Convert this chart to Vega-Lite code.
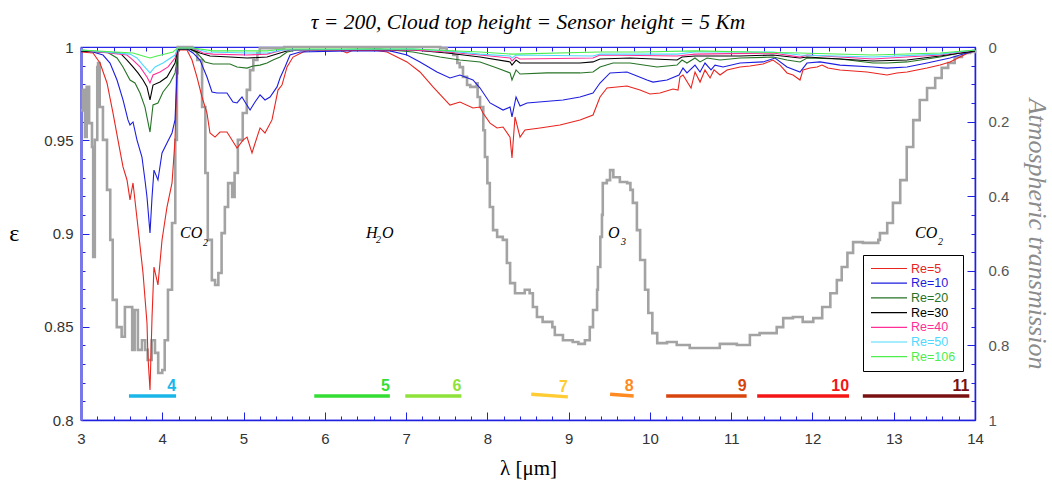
{
"$schema": "https://vega.github.io/schema/vega-lite/v6.json",
"width": 894, "height": 373,
"autosize": {"type": "none"},
"padding": {"left": 81, "top": 47, "right": 77, "bottom": 61},
"background": "white",
"title": {"text": "τ = 200, Cloud top height = Sensor height = 5 Km", "font": "Liberation Serif", "fontStyle": "italic", "fontWeight": "normal", "fontSize": 21.5, "color": "black", "anchor": "middle", "baseline": "alphabetic", "offset": -10},
"config": {"view": {"stroke": "#2a2ae8", "strokeWidth": 1.2}, "axis": {"grid": false, "labelOverlap": false}},
"datasets": {
"curves": [
{"Re":"Re=5","lam":3,"eps":0.9973},{"Re":"Re=5","lam":3.148,"eps":0.9968},{"Re":"Re=5","lam":3.234,"eps":0.9914},{"Re":"Re=5","lam":3.32,"eps":0.9807},{"Re":"Re=5","lam":3.394,"eps":0.9646},{"Re":"Re=5","lam":3.455,"eps":0.9501},{"Re":"Re=5","lam":3.517,"eps":0.9357},{"Re":"Re=5","lam":3.566,"eps":0.9287},{"Re":"Re=5","lam":3.603,"eps":0.918},{"Re":"Re=5","lam":3.64,"eps":0.9271},{"Re":"Re=5","lam":3.701,"eps":0.9035},{"Re":"Re=5","lam":3.763,"eps":0.8788},{"Re":"Re=5","lam":3.812,"eps":0.852},{"Re":"Re=5","lam":3.824,"eps":0.8338},{"Re":"Re=5","lam":3.849,"eps":0.8161},{"Re":"Re=5","lam":3.874,"eps":0.8552},{"Re":"Re=5","lam":3.898,"eps":0.882},{"Re":"Re=5","lam":3.947,"eps":0.8724},{"Re":"Re=5","lam":3.997,"eps":0.8965},{"Re":"Re=5","lam":4.058,"eps":0.9142},{"Re":"Re=5","lam":4.12,"eps":0.9271},{"Re":"Re=5","lam":4.157,"eps":0.9501},{"Re":"Re=5","lam":4.181,"eps":0.9861},{"Re":"Re=5","lam":4.19,"eps":0.9984},{"Re":"Re=5","lam":4.304,"eps":0.9984},{"Re":"Re=5","lam":4.366,"eps":0.993},{"Re":"Re=5","lam":4.427,"eps":0.9839},{"Re":"Re=5","lam":4.489,"eps":0.9732},{"Re":"Re=5","lam":4.55,"eps":0.9646},{"Re":"Re=5","lam":4.587,"eps":0.9539},{"Re":"Re=5","lam":4.649,"eps":0.9517},{"Re":"Re=5","lam":4.71,"eps":0.9544},{"Re":"Re=5","lam":4.796,"eps":0.9544},{"Re":"Re=5","lam":4.858,"eps":0.9501},{"Re":"Re=5","lam":4.92,"eps":0.9458},{"Re":"Re=5","lam":4.993,"eps":0.9501},{"Re":"Re=5","lam":5.043,"eps":0.9517},{"Re":"Re=5","lam":5.104,"eps":0.9432},{"Re":"Re=5","lam":5.166,"eps":0.9517},{"Re":"Re=5","lam":5.203,"eps":0.9566},{"Re":"Re=5","lam":5.264,"eps":0.9539},{"Re":"Re=5","lam":5.35,"eps":0.9609},{"Re":"Re=5","lam":5.424,"eps":0.9769},{"Re":"Re=5","lam":5.473,"eps":0.9796},{"Re":"Re=5","lam":5.535,"eps":0.9893},{"Re":"Re=5","lam":5.609,"eps":0.9946},{"Re":"Re=5","lam":5.732,"eps":0.9973},{"Re":"Re=5","lam":5.818,"eps":0.9984},{"Re":"Re=5","lam":6.187,"eps":0.9984},{"Re":"Re=5","lam":6.273,"eps":0.9968},{"Re":"Re=5","lam":6.347,"eps":0.9984},{"Re":"Re=5","lam":6.593,"eps":0.9984},{"Re":"Re=5","lam":6.765,"eps":0.9973},{"Re":"Re=5","lam":6.888,"eps":0.9946},{"Re":"Re=5","lam":7.011,"eps":0.992},{"Re":"Re=5","lam":7.171,"eps":0.9866},{"Re":"Re=5","lam":7.331,"eps":0.9786},{"Re":"Re=5","lam":7.54,"eps":0.9689},{"Re":"Re=5","lam":7.663,"eps":0.9705},{"Re":"Re=5","lam":7.823,"eps":0.9673},{"Re":"Re=5","lam":7.91,"eps":0.9678},{"Re":"Re=5","lam":7.946,"eps":0.9646},{"Re":"Re=5","lam":8.033,"eps":0.9592},{"Re":"Re=5","lam":8.119,"eps":0.9566},{"Re":"Re=5","lam":8.193,"eps":0.9571},{"Re":"Re=5","lam":8.279,"eps":0.9517},{"Re":"Re=5","lam":8.303,"eps":0.9405},{"Re":"Re=5","lam":8.34,"eps":0.9625},{"Re":"Re=5","lam":8.402,"eps":0.9517},{"Re":"Re=5","lam":8.463,"eps":0.9555},{"Re":"Re=5","lam":8.648,"eps":0.9566},{"Re":"Re=5","lam":8.894,"eps":0.9582},{"Re":"Re=5","lam":9.14,"eps":0.9609},{"Re":"Re=5","lam":9.3,"eps":0.9635},{"Re":"Re=5","lam":9.386,"eps":0.9732},{"Re":"Re=5","lam":9.472,"eps":0.978},{"Re":"Re=5","lam":9.718,"eps":0.9791},{"Re":"Re=5","lam":9.878,"eps":0.9769},{"Re":"Re=5","lam":10.001,"eps":0.9748},{"Re":"Re=5","lam":10.124,"eps":0.9753},{"Re":"Re=5","lam":10.284,"eps":0.9775},{"Re":"Re=5","lam":10.346,"eps":0.9769},{"Re":"Re=5","lam":10.37,"eps":0.9839},{"Re":"Re=5","lam":10.407,"eps":0.985},{"Re":"Re=5","lam":10.506,"eps":0.978},{"Re":"Re=5","lam":10.555,"eps":0.9866},{"Re":"Re=5","lam":10.617,"eps":0.9812},{"Re":"Re=5","lam":10.678,"eps":0.9877},{"Re":"Re=5","lam":10.74,"eps":0.9834},{"Re":"Re=5","lam":10.789,"eps":0.9877},{"Re":"Re=5","lam":10.863,"eps":0.985},{"Re":"Re=5","lam":10.949,"eps":0.9877},{"Re":"Re=5","lam":11.109,"eps":0.9893},{"Re":"Re=5","lam":11.232,"eps":0.9898},{"Re":"Re=5","lam":11.392,"eps":0.9909},{"Re":"Re=5","lam":11.515,"eps":0.993},{"Re":"Re=5","lam":11.601,"eps":0.9903},{"Re":"Re=5","lam":11.687,"eps":0.9861},{"Re":"Re=5","lam":11.761,"eps":0.985},{"Re":"Re=5","lam":11.847,"eps":0.9823},{"Re":"Re=5","lam":11.884,"eps":0.9877},{"Re":"Re=5","lam":11.97,"eps":0.9887},{"Re":"Re=5","lam":12.056,"eps":0.9893},{"Re":"Re=5","lam":12.118,"eps":0.9903},{"Re":"Re=5","lam":12.192,"eps":0.9887},{"Re":"Re=5","lam":12.339,"eps":0.9877},{"Re":"Re=5","lam":12.671,"eps":0.9866},{"Re":"Re=5","lam":12.917,"eps":0.985},{"Re":"Re=5","lam":13.04,"eps":0.9861},{"Re":"Re=5","lam":13.164,"eps":0.9866},{"Re":"Re=5","lam":13.287,"eps":0.9877},{"Re":"Re=5","lam":13.41,"eps":0.9887},{"Re":"Re=5","lam":13.57,"eps":0.9903},{"Re":"Re=5","lam":13.693,"eps":0.992},{"Re":"Re=5","lam":13.816,"eps":0.9946},{"Re":"Re=5","lam":13.914,"eps":0.9968},{"Re":"Re=5","lam":14,"eps":0.9979},
{"Re":"Re=10","lam":3,"eps":0.9979},{"Re":"Re=10","lam":3.148,"eps":0.9973},{"Re":"Re=10","lam":3.271,"eps":0.9957},{"Re":"Re=10","lam":3.357,"eps":0.9914},{"Re":"Re=10","lam":3.443,"eps":0.9823},{"Re":"Re=10","lam":3.517,"eps":0.9716},{"Re":"Re=10","lam":3.578,"eps":0.9609},{"Re":"Re=10","lam":3.603,"eps":0.9582},{"Re":"Re=10","lam":3.64,"eps":0.9598},{"Re":"Re=10","lam":3.689,"eps":0.9501},{"Re":"Re=10","lam":3.75,"eps":0.941},{"Re":"Re=10","lam":3.787,"eps":0.9287},{"Re":"Re=10","lam":3.812,"eps":0.9196},{"Re":"Re=10","lam":3.849,"eps":0.9003},{"Re":"Re=10","lam":3.874,"eps":0.9196},{"Re":"Re=10","lam":3.898,"eps":0.934},{"Re":"Re=10","lam":3.947,"eps":0.9287},{"Re":"Re=10","lam":3.997,"eps":0.9432},{"Re":"Re=10","lam":4.058,"eps":0.9485},{"Re":"Re=10","lam":4.12,"eps":0.9539},{"Re":"Re=10","lam":4.157,"eps":0.9609},{"Re":"Re=10","lam":4.181,"eps":0.9861},{"Re":"Re=10","lam":4.19,"eps":0.9989},{"Re":"Re=10","lam":4.304,"eps":0.9989},{"Re":"Re=10","lam":4.378,"eps":0.9968},{"Re":"Re=10","lam":4.464,"eps":0.993},{"Re":"Re=10","lam":4.55,"eps":0.9839},{"Re":"Re=10","lam":4.612,"eps":0.9759},{"Re":"Re=10","lam":4.673,"eps":0.9753},{"Re":"Re=10","lam":4.796,"eps":0.9753},{"Re":"Re=10","lam":4.87,"eps":0.9705},{"Re":"Re=10","lam":4.92,"eps":0.97},{"Re":"Re=10","lam":4.981,"eps":0.9732},{"Re":"Re=10","lam":5.018,"eps":0.9705},{"Re":"Re=10","lam":5.08,"eps":0.9662},{"Re":"Re=10","lam":5.141,"eps":0.9705},{"Re":"Re=10","lam":5.203,"eps":0.9743},{"Re":"Re=10","lam":5.264,"eps":0.9716},{"Re":"Re=10","lam":5.326,"eps":0.9732},{"Re":"Re=10","lam":5.412,"eps":0.9786},{"Re":"Re=10","lam":5.449,"eps":0.9834},{"Re":"Re=10","lam":5.51,"eps":0.9893},{"Re":"Re=10","lam":5.572,"eps":0.9957},{"Re":"Re=10","lam":5.695,"eps":0.9973},{"Re":"Re=10","lam":6.273,"eps":0.9979},{"Re":"Re=10","lam":6.802,"eps":0.9979},{"Re":"Re=10","lam":7.011,"eps":0.9957},{"Re":"Re=10","lam":7.171,"eps":0.992},{"Re":"Re=10","lam":7.38,"eps":0.9866},{"Re":"Re=10","lam":7.54,"eps":0.9834},{"Re":"Re=10","lam":7.663,"eps":0.985},{"Re":"Re=10","lam":7.823,"eps":0.9823},{"Re":"Re=10","lam":7.91,"eps":0.978},{"Re":"Re=10","lam":8.033,"eps":0.97},{"Re":"Re=10","lam":8.193,"eps":0.9662},{"Re":"Re=10","lam":8.279,"eps":0.9678},{"Re":"Re=10","lam":8.303,"eps":0.9625},{"Re":"Re=10","lam":8.353,"eps":0.9732},{"Re":"Re=10","lam":8.402,"eps":0.9684},{"Re":"Re=10","lam":8.488,"eps":0.97},{"Re":"Re=10","lam":8.931,"eps":0.9716},{"Re":"Re=10","lam":9.14,"eps":0.9732},{"Re":"Re=10","lam":9.3,"eps":0.9753},{"Re":"Re=10","lam":9.386,"eps":0.9807},{"Re":"Re=10","lam":9.509,"eps":0.9861},{"Re":"Re=10","lam":9.718,"eps":0.9866},{"Re":"Re=10","lam":9.964,"eps":0.9823},{"Re":"Re=10","lam":10.038,"eps":0.9812},{"Re":"Re=10","lam":10.211,"eps":0.9823},{"Re":"Re=10","lam":10.358,"eps":0.985},{"Re":"Re=10","lam":10.407,"eps":0.9887},{"Re":"Re=10","lam":10.456,"eps":0.9861},{"Re":"Re=10","lam":10.555,"eps":0.9903},{"Re":"Re=10","lam":10.617,"eps":0.9866},{"Re":"Re=10","lam":10.678,"eps":0.9914},{"Re":"Re=10","lam":10.752,"eps":0.9877},{"Re":"Re=10","lam":10.801,"eps":0.9903},{"Re":"Re=10","lam":10.9,"eps":0.9893},{"Re":"Re=10","lam":11.109,"eps":0.9914},{"Re":"Re=10","lam":11.392,"eps":0.992},{"Re":"Re=10","lam":11.54,"eps":0.9941},{"Re":"Re=10","lam":11.687,"eps":0.9893},{"Re":"Re=10","lam":11.847,"eps":0.9866},{"Re":"Re=10","lam":11.933,"eps":0.9914},{"Re":"Re=10","lam":12.093,"eps":0.992},{"Re":"Re=10","lam":12.339,"eps":0.9903},{"Re":"Re=10","lam":12.745,"eps":0.9893},{"Re":"Re=10","lam":12.917,"eps":0.9887},{"Re":"Re=10","lam":13.164,"eps":0.9893},{"Re":"Re=10","lam":13.41,"eps":0.9914},{"Re":"Re=10","lam":13.693,"eps":0.9941},{"Re":"Re=10","lam":13.853,"eps":0.9962},{"Re":"Re=10","lam":14,"eps":0.9979},
{"Re":"Re=20","lam":3,"eps":0.9979},{"Re":"Re=20","lam":3.32,"eps":0.9973},{"Re":"Re=20","lam":3.443,"eps":0.9941},{"Re":"Re=20","lam":3.517,"eps":0.9893},{"Re":"Re=20","lam":3.603,"eps":0.9823},{"Re":"Re=20","lam":3.664,"eps":0.9807},{"Re":"Re=20","lam":3.726,"eps":0.9753},{"Re":"Re=20","lam":3.787,"eps":0.9678},{"Re":"Re=20","lam":3.849,"eps":0.9544},{"Re":"Re=20","lam":3.886,"eps":0.9689},{"Re":"Re=20","lam":3.947,"eps":0.97},{"Re":"Re=20","lam":4.009,"eps":0.9759},{"Re":"Re=20","lam":4.095,"eps":0.9807},{"Re":"Re=20","lam":4.157,"eps":0.9861},{"Re":"Re=20","lam":4.181,"eps":0.993},{"Re":"Re=20","lam":4.19,"eps":0.9989},{"Re":"Re=20","lam":4.341,"eps":0.9989},{"Re":"Re=20","lam":4.427,"eps":0.9968},{"Re":"Re=20","lam":4.526,"eps":0.992},{"Re":"Re=20","lam":4.624,"eps":0.9909},{"Re":"Re=20","lam":4.833,"eps":0.9909},{"Re":"Re=20","lam":4.92,"eps":0.9893},{"Re":"Re=20","lam":5.043,"eps":0.9887},{"Re":"Re=20","lam":5.116,"eps":0.9898},{"Re":"Re=20","lam":5.203,"eps":0.9903},{"Re":"Re=20","lam":5.289,"eps":0.9914},{"Re":"Re=20","lam":5.362,"eps":0.993},{"Re":"Re=20","lam":5.449,"eps":0.9946},{"Re":"Re=20","lam":5.535,"eps":0.9973},{"Re":"Re=20","lam":5.658,"eps":0.9984},{"Re":"Re=20","lam":6.679,"eps":0.9989},{"Re":"Re=20","lam":7.085,"eps":0.9973},{"Re":"Re=20","lam":7.417,"eps":0.9946},{"Re":"Re=20","lam":7.663,"eps":0.993},{"Re":"Re=20","lam":7.91,"eps":0.992},{"Re":"Re=20","lam":8.119,"eps":0.9887},{"Re":"Re=20","lam":8.279,"eps":0.9861},{"Re":"Re=20","lam":8.303,"eps":0.9823},{"Re":"Re=20","lam":8.353,"eps":0.9877},{"Re":"Re=20","lam":8.402,"eps":0.9855},{"Re":"Re=20","lam":8.734,"eps":0.9861},{"Re":"Re=20","lam":9.14,"eps":0.9861},{"Re":"Re=20","lam":9.3,"eps":0.9866},{"Re":"Re=20","lam":9.386,"eps":0.9893},{"Re":"Re=20","lam":9.546,"eps":0.9914},{"Re":"Re=20","lam":9.755,"eps":0.9914},{"Re":"Re=20","lam":10.087,"eps":0.9893},{"Re":"Re=20","lam":10.334,"eps":0.9903},{"Re":"Re=20","lam":10.395,"eps":0.993},{"Re":"Re=20","lam":10.456,"eps":0.9914},{"Re":"Re=20","lam":10.555,"eps":0.9941},{"Re":"Re=20","lam":10.617,"eps":0.992},{"Re":"Re=20","lam":10.703,"eps":0.9941},{"Re":"Re=20","lam":10.863,"eps":0.993},{"Re":"Re=20","lam":11.109,"eps":0.9941},{"Re":"Re=20","lam":11.515,"eps":0.9946},{"Re":"Re=20","lam":11.687,"eps":0.993},{"Re":"Re=20","lam":11.847,"eps":0.992},{"Re":"Re=20","lam":11.933,"eps":0.9941},{"Re":"Re=20","lam":12.339,"eps":0.9936},{"Re":"Re=20","lam":12.745,"eps":0.9914},{"Re":"Re=20","lam":12.917,"eps":0.9914},{"Re":"Re=20","lam":13.164,"eps":0.992},{"Re":"Re=20","lam":13.57,"eps":0.9946},{"Re":"Re=20","lam":13.816,"eps":0.9968},{"Re":"Re=20","lam":14,"eps":0.9979},
{"Re":"Re=30","lam":3,"eps":0.9979},{"Re":"Re=30","lam":3.48,"eps":0.9968},{"Re":"Re=30","lam":3.566,"eps":0.993},{"Re":"Re=30","lam":3.64,"eps":0.9893},{"Re":"Re=30","lam":3.701,"eps":0.9861},{"Re":"Re=30","lam":3.763,"eps":0.9823},{"Re":"Re=30","lam":3.812,"eps":0.9786},{"Re":"Re=30","lam":3.849,"eps":0.9716},{"Re":"Re=30","lam":3.886,"eps":0.9796},{"Re":"Re=30","lam":3.972,"eps":0.9812},{"Re":"Re=30","lam":4.058,"eps":0.9839},{"Re":"Re=30","lam":4.157,"eps":0.9914},{"Re":"Re=30","lam":4.19,"eps":0.9989},{"Re":"Re=30","lam":4.341,"eps":0.9989},{"Re":"Re=30","lam":4.464,"eps":0.9968},{"Re":"Re=30","lam":4.587,"eps":0.9952},{"Re":"Re=30","lam":4.833,"eps":0.9946},{"Re":"Re=30","lam":5.043,"eps":0.9941},{"Re":"Re=30","lam":5.289,"eps":0.9946},{"Re":"Re=30","lam":5.449,"eps":0.9968},{"Re":"Re=30","lam":5.572,"eps":0.9984},{"Re":"Re=30","lam":7.085,"eps":0.9984},{"Re":"Re=30","lam":7.503,"eps":0.9968},{"Re":"Re=30","lam":7.91,"eps":0.9946},{"Re":"Re=30","lam":8.279,"eps":0.992},{"Re":"Re=30","lam":8.303,"eps":0.9903},{"Re":"Re=30","lam":8.353,"eps":0.993},{"Re":"Re=30","lam":8.402,"eps":0.9914},{"Re":"Re=30","lam":9.14,"eps":0.9914},{"Re":"Re=30","lam":9.3,"eps":0.992},{"Re":"Re=30","lam":9.386,"eps":0.9936},{"Re":"Re=30","lam":9.755,"eps":0.9941},{"Re":"Re=30","lam":10.334,"eps":0.993},{"Re":"Re=30","lam":10.395,"eps":0.9946},{"Re":"Re=30","lam":10.555,"eps":0.9952},{"Re":"Re=30","lam":11.109,"eps":0.9952},{"Re":"Re=30","lam":11.515,"eps":0.9957},{"Re":"Re=30","lam":11.847,"eps":0.9941},{"Re":"Re=30","lam":11.933,"eps":0.9946},{"Re":"Re=30","lam":12.745,"eps":0.9925},{"Re":"Re=30","lam":13.164,"eps":0.993},{"Re":"Re=30","lam":13.57,"eps":0.9952},{"Re":"Re=30","lam":14,"eps":0.9979},
{"Re":"Re=40","lam":3,"eps":0.9984},{"Re":"Re=40","lam":3.566,"eps":0.9957},{"Re":"Re=40","lam":3.64,"eps":0.993},{"Re":"Re=40","lam":3.726,"eps":0.9893},{"Re":"Re=40","lam":3.812,"eps":0.9839},{"Re":"Re=40","lam":3.849,"eps":0.9807},{"Re":"Re=40","lam":3.886,"eps":0.985},{"Re":"Re=40","lam":3.972,"eps":0.9866},{"Re":"Re=40","lam":4.071,"eps":0.9893},{"Re":"Re=40","lam":4.157,"eps":0.9941},{"Re":"Re=40","lam":4.19,"eps":0.9995},{"Re":"Re=40","lam":4.378,"eps":0.9995},{"Re":"Re=40","lam":4.501,"eps":0.9968},{"Re":"Re=40","lam":4.624,"eps":0.9962},{"Re":"Re=40","lam":5.043,"eps":0.9957},{"Re":"Re=40","lam":5.289,"eps":0.9962},{"Re":"Re=40","lam":5.486,"eps":0.9984},{"Re":"Re=40","lam":7.085,"eps":0.9984},{"Re":"Re=40","lam":7.503,"eps":0.9973},{"Re":"Re=40","lam":7.91,"eps":0.9957},{"Re":"Re=40","lam":8.279,"eps":0.9941},{"Re":"Re=40","lam":8.303,"eps":0.9925},{"Re":"Re=40","lam":8.353,"eps":0.9946},{"Re":"Re=40","lam":8.402,"eps":0.9936},{"Re":"Re=40","lam":9.3,"eps":0.9941},{"Re":"Re=40","lam":9.386,"eps":0.9957},{"Re":"Re=40","lam":10.334,"eps":0.9952},{"Re":"Re=40","lam":10.555,"eps":0.9962},{"Re":"Re=40","lam":11.515,"eps":0.9968},{"Re":"Re=40","lam":11.847,"eps":0.9946},{"Re":"Re=40","lam":11.933,"eps":0.9957},{"Re":"Re=40","lam":12.745,"eps":0.9936},{"Re":"Re=40","lam":13.57,"eps":0.9957},{"Re":"Re=40","lam":14,"eps":0.9984},
{"Re":"Re=50","lam":3,"eps":0.9984},{"Re":"Re=50","lam":3.603,"eps":0.9962},{"Re":"Re=50","lam":3.689,"eps":0.9941},{"Re":"Re=50","lam":3.763,"eps":0.9903},{"Re":"Re=50","lam":3.849,"eps":0.9861},{"Re":"Re=50","lam":3.911,"eps":0.9893},{"Re":"Re=50","lam":4.009,"eps":0.9914},{"Re":"Re=50","lam":4.157,"eps":0.9957},{"Re":"Re=50","lam":4.19,"eps":0.9995},{"Re":"Re=50","lam":4.378,"eps":0.9995},{"Re":"Re=50","lam":4.55,"eps":0.9973},{"Re":"Re=50","lam":5.043,"eps":0.9968},{"Re":"Re=50","lam":5.289,"eps":0.9968},{"Re":"Re=50","lam":5.486,"eps":0.9984},{"Re":"Re=50","lam":7.085,"eps":0.9989},{"Re":"Re=50","lam":7.503,"eps":0.9979},{"Re":"Re=50","lam":7.91,"eps":0.9962},{"Re":"Re=50","lam":8.279,"eps":0.9952},{"Re":"Re=50","lam":8.303,"eps":0.9941},{"Re":"Re=50","lam":8.353,"eps":0.9957},{"Re":"Re=50","lam":9.3,"eps":0.9952},{"Re":"Re=50","lam":9.386,"eps":0.9962},{"Re":"Re=50","lam":10.334,"eps":0.9962},{"Re":"Re=50","lam":10.555,"eps":0.9973},{"Re":"Re=50","lam":11.515,"eps":0.9973},{"Re":"Re=50","lam":11.847,"eps":0.9957},{"Re":"Re=50","lam":12.745,"eps":0.9946},{"Re":"Re=50","lam":13.57,"eps":0.9962},{"Re":"Re=50","lam":14,"eps":0.9984},
{"Re":"Re=106","lam":3,"eps":0.9984},{"Re":"Re=106","lam":3.64,"eps":0.9968},{"Re":"Re=106","lam":3.763,"eps":0.9952},{"Re":"Re=106","lam":3.849,"eps":0.9941},{"Re":"Re=106","lam":3.935,"eps":0.9952},{"Re":"Re=106","lam":4.132,"eps":0.9973},{"Re":"Re=106","lam":4.19,"eps":0.9995},{"Re":"Re=106","lam":4.378,"eps":0.9995},{"Re":"Re=106","lam":4.624,"eps":0.9979},{"Re":"Re=106","lam":5.289,"eps":0.9979},{"Re":"Re=106","lam":5.486,"eps":0.9989},{"Re":"Re=106","lam":7.085,"eps":0.9989},{"Re":"Re=106","lam":7.91,"eps":0.9973},{"Re":"Re=106","lam":8.303,"eps":0.9962},{"Re":"Re=106","lam":9.386,"eps":0.9973},{"Re":"Re=106","lam":9.878,"eps":0.9973},{"Re":"Re=106","lam":10.555,"eps":0.9979},{"Re":"Re=106","lam":11.847,"eps":0.9968},{"Re":"Re=106","lam":12.745,"eps":0.9957},{"Re":"Re=106","lam":13.57,"eps":0.9968},{"Re":"Re=106","lam":14,"eps":0.9984}
],
"trans": [
{"lam":3,"t":0.17},{"lam":3.025,"t":0.115},{"lam":3.05,"t":0.241},{"lam":3.07,"t":0.107},{"lam":3.1,"t":0.204},{"lam":3.135,"t":0.268},{"lam":3.15,"t":0.563},{"lam":3.17,"t":0.249},{"lam":3.2,"t":0.054},{"lam":3.21,"t":0.043},{"lam":3.23,"t":0.161},{"lam":3.27,"t":0.249},{"lam":3.32,"t":0.383},{"lam":3.36,"t":0.517},{"lam":3.39,"t":0.678},{"lam":3.44,"t":0.751},{"lam":3.5,"t":0.777},{"lam":3.54,"t":0.697},{"lam":3.58,"t":0.697},{"lam":3.63,"t":0.812},{"lam":3.66,"t":0.705},{"lam":3.7,"t":0.812},{"lam":3.75,"t":0.786},{"lam":3.79,"t":0.812},{"lam":3.82,"t":0.839},{"lam":3.87,"t":0.786},{"lam":3.91,"t":0.82},{"lam":3.95,"t":0.874},{"lam":4.0,"t":0.866},{"lam":4.03,"t":0.786},{"lam":4.07,"t":0.651},{"lam":4.12,"t":0.472},{"lam":4.16,"t":0.249},{"lam":4.18,"t":0.07},{"lam":4.19,"t":0.0},{"lam":4.3,"t":0.0},{"lam":4.37,"t":0.008},{"lam":4.43,"t":0.035},{"lam":4.49,"t":0.161},{"lam":4.53,"t":0.338},{"lam":4.56,"t":0.517},{"lam":4.61,"t":0.625},{"lam":4.65,"t":0.638},{"lam":4.69,"t":0.606},{"lam":4.73,"t":0.499},{"lam":4.77,"t":0.429},{"lam":4.81,"t":0.365},{"lam":4.86,"t":0.402},{"lam":4.89,"t":0.338},{"lam":4.93,"t":0.249},{"lam":4.99,"t":0.177},{"lam":5.04,"t":0.115},{"lam":5.08,"t":0.062},{"lam":5.12,"t":0.035},{"lam":5.17,"t":0.016},{"lam":5.2,"t":0.003},{"lam":5.5,"t":0.0},{"lam":7.42,"t":0.003},{"lam":7.5,"t":0.013},{"lam":7.58,"t":0.021},{"lam":7.63,"t":0.043},{"lam":7.66,"t":0.054},{"lam":7.7,"t":0.08},{"lam":7.75,"t":0.102},{"lam":7.79,"t":0.107},{"lam":7.87,"t":0.097},{"lam":7.88,"t":0.134},{"lam":7.91,"t":0.161},{"lam":7.95,"t":0.223},{"lam":7.97,"t":0.295},{"lam":8.0,"t":0.365},{"lam":8.03,"t":0.429},{"lam":8.07,"t":0.491},{"lam":8.12,"t":0.509},{"lam":8.19,"t":0.517},{"lam":8.24,"t":0.579},{"lam":8.28,"t":0.633},{"lam":8.34,"t":0.66},{"lam":8.46,"t":0.651},{"lam":8.52,"t":0.66},{"lam":8.56,"t":0.697},{"lam":8.61,"t":0.724},{"lam":8.68,"t":0.737},{"lam":8.8,"t":0.751},{"lam":8.83,"t":0.772},{"lam":8.93,"t":0.786},{"lam":9.05,"t":0.791},{"lam":9.12,"t":0.796},{"lam":9.2,"t":0.786},{"lam":9.26,"t":0.751},{"lam":9.3,"t":0.705},{"lam":9.35,"t":0.651},{"lam":9.36,"t":0.59},{"lam":9.39,"t":0.509},{"lam":9.41,"t":0.45},{"lam":9.42,"t":0.365},{"lam":9.47,"t":0.357},{"lam":9.51,"t":0.33},{"lam":9.55,"t":0.349},{"lam":9.63,"t":0.362},{"lam":9.72,"t":0.365},{"lam":9.76,"t":0.383},{"lam":9.79,"t":0.418},{"lam":9.84,"t":0.491},{"lam":9.88,"t":0.571},{"lam":9.94,"t":0.651},{"lam":9.98,"t":0.713},{"lam":10.03,"t":0.767},{"lam":10.09,"t":0.794},{"lam":10.21,"t":0.791},{"lam":10.33,"t":0.799},{"lam":10.49,"t":0.807},{"lam":10.7,"t":0.807},{"lam":10.86,"t":0.796},{"lam":11.07,"t":0.799},{"lam":11.23,"t":0.772},{"lam":11.35,"t":0.767},{"lam":11.56,"t":0.751},{"lam":11.64,"t":0.727},{"lam":11.76,"t":0.724},{"lam":11.88,"t":0.737},{"lam":12.01,"t":0.727},{"lam":12.12,"t":0.697},{"lam":12.22,"t":0.66},{"lam":12.3,"t":0.625},{"lam":12.36,"t":0.59},{"lam":12.43,"t":0.552},{"lam":12.5,"t":0.523},{"lam":12.62,"t":0.525},{"lam":12.81,"t":0.517},{"lam":12.83,"t":0.499},{"lam":12.92,"t":0.472},{"lam":12.99,"t":0.418},{"lam":13.08,"t":0.357},{"lam":13.16,"t":0.268},{"lam":13.24,"t":0.196},{"lam":13.32,"t":0.142},{"lam":13.41,"t":0.11},{"lam":13.51,"t":0.083},{"lam":13.59,"t":0.056},{"lam":13.67,"t":0.043},{"lam":13.75,"t":0.027},{"lam":13.84,"t":0.016},{"lam":13.94,"t":0.013},{"lam":14.0,"t":0.008}
],
"bands": [
{"band":"4","x1":3.59,"x2":4.17,"y1":0.8129,"y2":0.8129},
{"band":"5","x1":5.87,"x2":6.8,"y1":0.8129,"y2":0.8129},
{"band":"6","x1":6.99,"x2":7.68,"y1":0.8129,"y2":0.8129},
{"band":"7","x1":8.54,"x2":8.99,"y1":0.8138,"y2":0.8124},
{"band":"8","x1":9.51,"x2":9.8,"y1":0.8138,"y2":0.8129},
{"band":"9","x1":10.2,"x2":11.19,"y1":0.8129,"y2":0.8129},
{"band":"10","x1":11.32,"x2":12.45,"y1":0.8129,"y2":0.8129},
{"band":"11","x1":12.62,"x2":13.93,"y1":0.8129,"y2":0.8129}
],
"gasmain": [
{"txt":"CO","lam":4.218,"eps":0.9003},
{"txt":"H","lam":6.507,"eps":0.9003},
{"txt":"O","lam":6.704,"eps":0.9003},
{"txt":"O","lam":9.485,"eps":0.9003},
{"txt":"CO","lam":13.262,"eps":0.9003}
],
"gassub": [
{"txt":"2","lam":4.5,"eps":0.8949},
{"txt":"2","lam":6.63,"eps":0.8965},
{"txt":"3","lam":9.645,"eps":0.8954},
{"txt":"2","lam":13.545,"eps":0.8954}
]
},
"resolve": {"scale": {"y": "independent"}, "axis": {"x": "independent", "y": "independent"}},
"layer": [
{
"data": {"name": "trans"},
"mark": {"type": "line", "color": "#a3a3a3", "strokeWidth": 2.6, "interpolate": "step-after"},
"encoding": {
"x": {"field": "lam", "type": "quantitative", "scale": {"domain": [3, 14], "nice": false, "zero": false},
 "axis": {"orient": "top", "title": null, "labels": false, "domain": false,
  "values": [3,3.2,3.4,3.6,3.8,4,4.2,4.4,4.6,4.8,5,5.2,5.4,5.6,5.8,6,6.2,6.4,6.6,6.8,7,7.2,7.4,7.6,7.8,8,8.2,8.4,8.6,8.8,9,9.2,9.4,9.6,9.8,10,10.2,10.4,10.6,10.8,11,11.2,11.4,11.6,11.8,12,12.2,12.4,12.6,12.8,13,13.2,13.4,13.6,13.8,14],
  "tickColor": "#2020e0", "tickWidth": 1,
  "tickSize": {"condition": {"test": "round(datum.value*10) % 10 === 0", "value": -8}, "value": -4}}},
"y": {"field": "t", "type": "quantitative", "scale": {"domain": [0, 1], "reverse": true, "nice": false, "zero": false},
 "axis": {"orient": "right", "values": [0,0.05,0.1,0.15,0.2,0.25,0.3,0.35,0.4,0.45,0.5,0.55,0.6,0.65,0.7,0.75,0.8,0.85,0.9,0.95,1],
  "format": "~g", "labelExpr": "round(datum.value*100) % 20 === 0 ? datum.label : ''",
  "tickSize": {"condition": {"test": "round(datum.value*100) % 20 === 0", "value": -8}, "value": -4},
  "tickColor": "#2020e0", "domainColor": "#2020e0", "domainWidth": 1.5,
  "labelPadding": 21, "labelFont": "Liberation Sans", "labelFontSize": 15, "labelColor": "#555555",
  "title": "Atmospheric transmission", "titleFont": "Liberation Serif", "titleFontStyle": "italic", "titleFontWeight": "normal", "titleFontSize": 26, "titleColor": "#8c8c8c", "titleAngle": 90, "titlePadding": 15}}
}
},
{"data": {"name": "bands"}, "mark": {"type": "rule", "strokeWidth": 3.5},
 "encoding": {
 "x": {"field": "x1", "type": "quantitative", "axis": null},
 "x2": {"field": "x2"},
 "y": {"field": "y1", "type": "quantitative", "scale": {"domain": [0.8, 1], "nice": false, "zero": false}, "axis": null},
 "y2": {"field": "y2"},
 "color": {"field": "band", "type": "nominal"}}},
{"data": {"name": "bands"}, "mark": {"type": "text", "align": "right", "baseline": "bottom", "dy": -2, "font": "Liberation Sans", "fontWeight": "bold", "fontSize": 16},
 "encoding": {
 "x": {"field": "x2", "type": "quantitative", "axis": null},
 "y": {"field": "y2", "type": "quantitative", "scale": {"domain": [0.8, 1], "nice": false, "zero": false}, "axis": null},
 "text": {"field": "band"},
 "color": {"field": "band", "type": "nominal"}}},
{"data": {"name": "gasmain"}, "mark": {"type": "text", "align": "left", "baseline": "middle", "font": "Liberation Serif", "fontStyle": "italic", "fontSize": 16, "color": "black"},
 "encoding": {"x": {"field": "lam", "type": "quantitative", "axis": null}, "y": {"field": "eps", "type": "quantitative", "scale": {"domain": [0.8, 1], "nice": false, "zero": false}, "axis": null}, "text": {"field": "txt"}}},
{"data": {"name": "gassub"}, "mark": {"type": "text", "align": "left", "baseline": "middle", "font": "Liberation Serif", "fontStyle": "italic", "fontSize": 10, "color": "black"},
 "encoding": {"x": {"field": "lam", "type": "quantitative", "axis": null}, "y": {"field": "eps", "type": "quantitative", "scale": {"domain": [0.8, 1], "nice": false, "zero": false}, "axis": null}, "text": {"field": "txt"}}},
{"data": {"name": "curves"}, "mark": {"type": "line", "strokeWidth": 1.1},
 "encoding": {
 "x": {"field": "lam", "type": "quantitative",
  "axis": {"orient": "bottom", "values": [3,3.2,3.4,3.6,3.8,4,4.2,4.4,4.6,4.8,5,5.2,5.4,5.6,5.8,6,6.2,6.4,6.6,6.8,7,7.2,7.4,7.6,7.8,8,8.2,8.4,8.6,8.8,9,9.2,9.4,9.6,9.8,10,10.2,10.4,10.6,10.8,11,11.2,11.4,11.6,11.8,12,12.2,12.4,12.6,12.8,13,13.2,13.4,13.6,13.8,14],
   "format": "~g", "labelExpr": "round(datum.value*10) % 10 === 0 ? datum.label : ''", "labelFlush": false,
   "tickSize": {"condition": {"test": "round(datum.value*10) % 10 === 0", "value": -8}, "value": -4},
   "tickColor": "#2020e0", "domainColor": "#2020e0", "domainWidth": 1.5,
   "labelPadding": 19, "labelFont": "Liberation Sans", "labelFontSize": 15, "labelColor": "#333333",
   "title": "λ [μm]", "titleFont": "Liberation Serif", "titleFontWeight": "normal", "titleFontSize": 21, "titleColor": "black", "titlePadding": 7}},
 "y": {"field": "eps", "type": "quantitative", "scale": {"domain": [0.8, 1], "nice": false, "zero": false},
  "axis": {"orient": "left", "values": [0.8,0.81,0.82,0.83,0.84,0.85,0.86,0.87,0.88,0.89,0.9,0.91,0.92,0.93,0.94,0.95,0.96,0.97,0.98,0.99,1],
   "format": "~g", "labelExpr": "round(datum.value*100) % 5 === 0 ? datum.label : ''",
   "tickSize": {"condition": {"test": "round(datum.value*100) % 5 === 0", "value": -8}, "value": -4},
   "tickColor": "#2020e0", "domainColor": "#7878e8", "domainWidth": 3,
   "labelPadding": 16, "labelFont": "Liberation Sans", "labelFontSize": 15, "labelColor": "#333333",
   "title": "ε", "titleFont": "Liberation Serif", "titleFontWeight": "normal", "titleFontSize": 24, "titleColor": "black", "titleAngle": 0, "titleAlign": "center", "titleBaseline": "middle", "titlePadding": 30}},
 "color": {"field": "Re", "type": "nominal",
  "scale": {"domain": ["Re=5","Re=10","Re=20","Re=30","Re=40","Re=50","Re=106","4","5","6","7","8","9","10","11"], "range": ["#e8251f","#1d1de0","#267326","#000000","#ff2f96","#4dd9ff","#4dee4d","#1ab6ea","#33dd33","#8fe23a","#ffcc33","#ff8a22","#d8440e","#f41616","#7a1010"]},
  "legend": {"title": null, "values": ["Re=5","Re=10","Re=20","Re=30","Re=40","Re=50","Re=106"], "orient": "none", "legendX": 782, "legendY": 208, "symbolType": "stroke", "symbolSize": 1296, "symbolStrokeWidth": 1.2,
   "labelFont": "Liberation Sans", "labelFontSize": 12.5, "clipHeight": 13, "rowPadding": 1.7, "padding": 7, "labelOffset": 3,
   "strokeColor": "black", "fillColor": "white",
   "encode": {"labels": {"update": {"fill": {"scale": "color", "field": "value"}}}}}}
 }}
]
}
